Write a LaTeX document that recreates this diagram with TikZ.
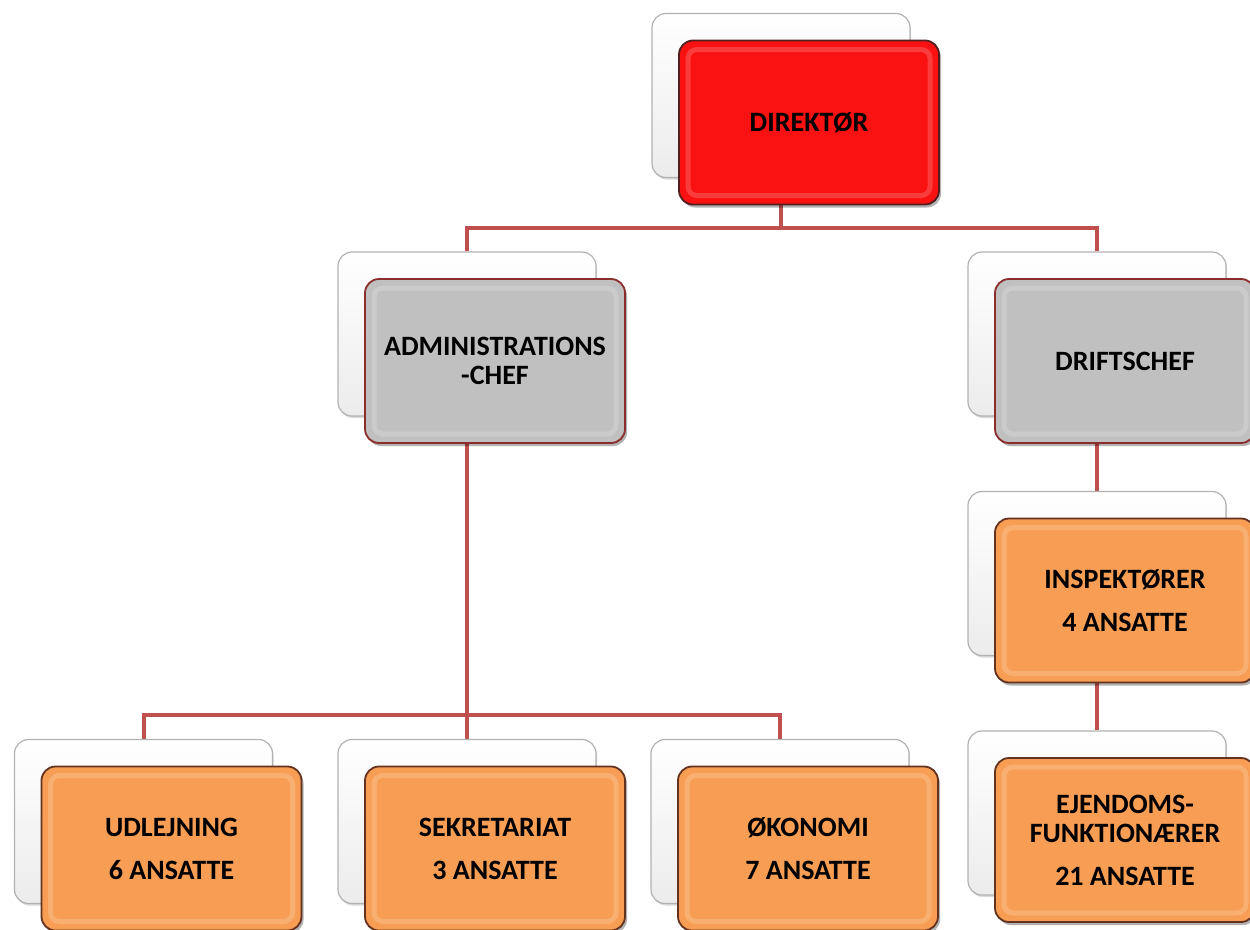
\documentclass[tikz,border=0pt]{standalone}
\usepackage{fontspec}
\setmainfont{Carlito}
\usetikzlibrary{shadows,backgrounds}

\definecolor{linkred}{RGB}{192,80,77}
\definecolor{dirred}{RGB}{250,18,18}
\definecolor{chefgray}{RGB}{192,192,192}
\definecolor{staffor}{RGB}{247,158,84}
\definecolor{dirrim}{RGB}{85,30,30}
\definecolor{chefrim}{RGB}{140,45,45}
\definecolor{staffrim}{RGB}{100,50,30}

\tikzset{
  backbox/.style={draw=gray!60, line width=1.2pt, top color=white, bottom color=gray!15,
    rounded corners=14pt, minimum width=258pt, minimum height=164pt,
    drop shadow={shadow xshift=1pt, shadow yshift=-2pt, opacity=0.15, fill=black}},
  frontbox/.style={draw=#1, line width=1.8pt, rounded corners=14pt,
    minimum width=260pt, minimum height=164pt, align=center,
    font=\bfseries\fontsize{28}{29}\selectfont,
    drop shadow={shadow xshift=2pt, shadow yshift=-3pt, opacity=0.3, fill=black},
    path picture={\draw[white, opacity=0.18, line width=5pt, rounded corners=9pt]
      ([shift={(9pt,-9pt)}]path picture bounding box.north west) rectangle
      ([shift={(-9pt,9pt)}]path picture bounding box.south east);}},
  link/.style={draw=linkred, line width=4pt},
}

\begin{document}
\begin{tikzpicture}[x=1pt, y=-1pt]
  \clip (0,0) rectangle (1250,929);

  % top
  \node[backbox] (dirB) at (781,95.5) {};
  \node[frontbox=dirrim, fill=dirred, xshift=28pt, yshift=-27pt] (dir) at (dirB) {DIREKTØR};

  % chefs
  \node[backbox] (admB) at (467,334) {};
  \node[frontbox=chefrim, fill=chefgray, xshift=28pt, yshift=-27pt] (adm) at (admB) {ADMINISTRATIONS\\-CHEF};
  \node[backbox] (drfB) at (1097,334) {};
  \node[frontbox=chefrim, fill=chefgray, xshift=28pt, yshift=-27pt] (drf) at (drfB) {DRIFTSCHEF};

  % drift
  \node[backbox] (insB) at (1097,573.5) {};
  \node[frontbox=staffrim, fill=staffor, xshift=28pt, yshift=-27pt] (ins) at (insB) {INSPEKTØRER\\[14pt]4 ANSATTE};
  \node[backbox] (ejdB) at (1097,813) {};
  \node[frontbox=staffrim, fill=staffor, xshift=28pt, yshift=-27pt] (ejd) at (ejdB) {EJENDOMS-\\FUNKTIONÆRER\\[14pt]21 ANSATTE};

  % administration
  \node[backbox] (udlB) at (143.5,821.5) {};
  \node[frontbox=staffrim, fill=staffor, xshift=28pt, yshift=-27pt] (udl) at (udlB) {UDLEJNING\\[14pt]6 ANSATTE};
  \node[backbox] (sekB) at (467,821.5) {};
  \node[frontbox=staffrim, fill=staffor, xshift=28pt, yshift=-27pt] (sek) at (sekB) {SEKRETARIAT\\[14pt]3 ANSATTE};
  \node[backbox] (okoB) at (780,821.5) {};
  \node[frontbox=staffrim, fill=staffor, xshift=28pt, yshift=-27pt] (oko) at (okoB) {ØKONOMI\\[14pt]7 ANSATTE};

  \begin{scope}[on background layer]
    \coordinate (dirJ) at (781,228);
    \coordinate (admJ) at (467,715);
    \draw[link] (dirB.south) -- (dirJ);
    \draw[link] (admB.north) |- (dirJ) -| (drfB.north);
    \draw[link] (admB.south) -- (admJ) -- (sekB.north);
    \draw[link] (udlB.north) |- (admJ) -| (okoB.north);
    \draw[link] (drfB.south) -- (insB.north);
    \draw[link] (insB.south) -- (ejdB.north);
  \end{scope}
\end{tikzpicture}
\end{document}
